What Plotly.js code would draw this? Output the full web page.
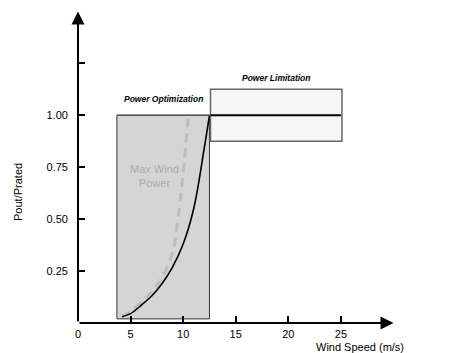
<!DOCTYPE html>
<html>
<head>
<meta charset="utf-8">
<script src="https://cdn.plot.ly/plotly-3.0.1.min.js"></script>
<style>html,body{margin:0;padding:0;background:#fff;}#chart{width:460px;height:353px;}</style>
</head>
<body>
<div id="chart"></div>
<script>
// Wind speed (m/s) and normalized power for the actual turbine curve
const turbineSpeed = [4.2, 5, 6, 7, 8, 9, 10, 11, 12, 12.5];
const turbinePower = [0.03, 0.045, 0.085, 0.13, 0.19, 0.27, 0.38, 0.55, 0.84, 1.0];
// Max wind power curve (dashed)
const maxSpeed = [4.2, 5, 6, 7, 8, 9, 9.5, 10, 10.5];
const maxPower = [0.03, 0.055, 0.1, 0.15, 0.22, 0.34, 0.5, 0.72, 1.0];
// Regions
const optRegion = {x0: 3.7, x1: 12.5, y0: 0.02, y1: 1.0};
const limRegion = {x0: 12.6, x1: 25.1, y0: 0.875, y1: 1.125};
const ratedPower = 1.0;
// Ticks
const xTickVals = [0, 5, 10, 15, 20, 25];
const xTickText = ['0', '5', '10', '15', '20', '25'];
const yTickVals = [0.25, 0.5, 0.75, 1.0, 1.25];
const yTickText = ['0.25', '0.50', '0.75', '1.00', ''];

const font = 'Liberation Sans, Arial, sans-serif';

const traces = [
  {x: maxSpeed, y: maxPower, mode: 'lines', line: {color: '#bdbdbd', width: 3, dash: '9px,6px', shape: 'spline'}, hoverinfo: 'skip'},
  {x: turbineSpeed, y: turbinePower, mode: 'lines', line: {color: '#000', width: 1.6, shape: 'spline'}, hoverinfo: 'skip'}
];

const layout = {
  width: 460, height: 353,
  margin: {l: 78, r: 56, t: 1, b: 30},
  paper_bgcolor: '#fff', plot_bgcolor: '#fff',
  showlegend: false,
  font: {family: font, size: 11, color: '#000'},
  xaxis: {range: [0, 31], showgrid: false, zeroline: false, showline: false,
    tickvals: xTickVals, ticktext: xTickText, ticks: 'inside', ticklen: 7, tickwidth: 2, tickcolor: '#000',
    tickfont: {size: 11, family: font}, ticklabelstandoff: 3, fixedrange: true},
  yaxis: {range: [0, 1.55], showgrid: false, zeroline: false, showline: false,
    tickvals: yTickVals, ticktext: yTickText, ticks: 'inside', ticklen: 7, tickwidth: 2, tickcolor: '#000',
    tickfont: {size: 11, family: font}, ticklabelstandoff: 9, fixedrange: true},
  shapes: [
    {type: 'rect', xref: 'x', yref: 'y', x0: optRegion.x0, x1: optRegion.x1, y0: optRegion.y0, y1: optRegion.y1,
      fillcolor: '#d5d5d5', line: {color: '#333', width: 1}, layer: 'below'},
    {type: 'rect', xref: 'x', yref: 'y', x0: limRegion.x0, x1: limRegion.x1, y0: limRegion.y0, y1: limRegion.y1,
      fillcolor: '#f7f7f7', line: {color: '#666', width: 1.5}, layer: 'below'},
    {type: 'line', xref: 'x', yref: 'y', x0: limRegion.x0, x1: limRegion.x1 - 0.1, y0: ratedPower, y1: ratedPower,
      line: {color: '#000', width: 2}},
    {type: 'line', xref: 'x', yref: 'y', x0: optRegion.x0, x1: optRegion.x1, y0: ratedPower, y1: ratedPower,
      line: {color: '#555', width: 1.5}}
  ],
  annotations: [
    {x: 30, y: 0, ax: 0, ay: 0, xref: 'x', yref: 'y', axref: 'x', ayref: 'y', showarrow: true,
      arrowhead: 2, arrowsize: 1.3, arrowwidth: 2, arrowcolor: '#000', text: ''},
    {x: 0, y: 1.5, ax: 0, ay: 0, xref: 'x', yref: 'y', axref: 'x', ayref: 'y', showarrow: true,
      arrowhead: 2, arrowsize: 1.3, arrowwidth: 2, arrowcolor: '#000', text: ''},
    {x: 8.1, y: 1.08, xref: 'x', yref: 'y', showarrow: false, text: '<b><i>Power Optimization</i></b>',
      font: {size: 8.5, family: font, color: '#000'}},
    {x: 18.8, y: 1.18, xref: 'x', yref: 'y', showarrow: false, text: '<b><i>Power Limitation</i></b>',
      font: {size: 8.5, family: font, color: '#000'}},
    {x: 7.3, y: 0.71, xref: 'x', yref: 'y', showarrow: false, text: 'Max Wind<br>Power',
      font: {size: 11, family: font, color: '#ababab'}},
    {x: 0.865, y: -0.0745, xref: 'paper', yref: 'paper', xanchor: 'center', yanchor: 'middle', showarrow: false,
      text: 'Wind Speed (m/s)', font: {size: 11, family: font, color: '#000'}},
    {x: -0.184, y: 0.407, xref: 'paper', yref: 'paper', xanchor: 'center', yanchor: 'middle', showarrow: false,
      text: 'Pout/Prated', textangle: -90, font: {size: 11, family: font, color: '#000'}}
  ]
};

Plotly.newPlot('chart', traces, layout, {displayModeBar: false, staticPlot: true});
</script>
</body>
</html>
